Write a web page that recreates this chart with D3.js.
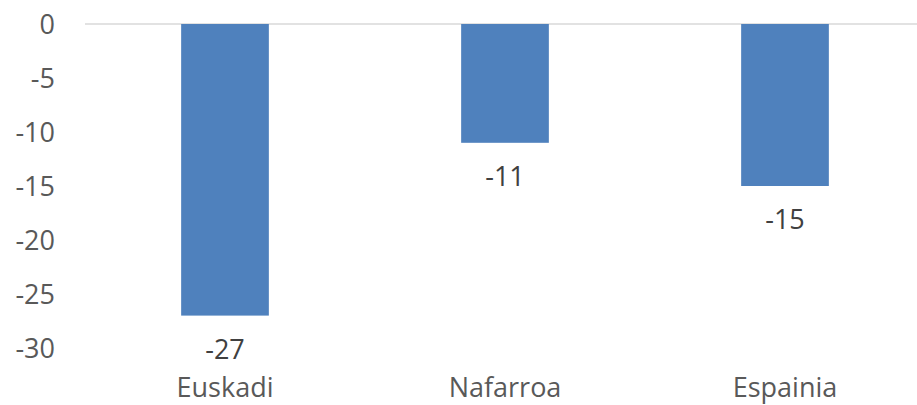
<!DOCTYPE html>
<html><head><meta charset="utf-8">
<script src="https://cdn.jsdelivr.net/npm/d3@7"></script>
<style>html,body{margin:0;padding:0;background:#fff;}svg{display:block;}</style>
</head><body>
<svg id="c" width="917" height="405"></svg>
<script>
const categories = ["Euskadi", "Nafarroa", "Espainia"];
const values = [-27, -11, -15];
const yTicks = [0, -5, -10, -15, -20, -25, -30];

const svg = d3.select("#c");
const font = "'Open Sans', 'Noto Sans', sans-serif";
const fs = 27;
const x = d3.scaleBand().domain(categories).range([85, 925]).paddingInner(0.6868).paddingOuter(0.3434);
const y = d3.scaleLinear().domain([-30, 0]).range([348, 24]);

// gridline at 0
svg.append("line").attr("x1", 85).attr("x2", 925).attr("y1", y(0)).attr("y2", y(0))
  .attr("stroke", "#d9d9d9").attr("stroke-width", 1.5);

// y axis
const yAxis = d3.axisLeft(y).tickValues(yTicks).tickSize(0).tickPadding(0).tickFormat(d => String(d));
const gy = svg.append("g").attr("transform", "translate(55,0)").call(yAxis);
gy.select(".domain").remove();
gy.selectAll("text").attr("font-family", font).attr("font-size", fs).attr("fill", "#595959").attr("dy", "0.36em");

// bars
svg.selectAll("rect.bar").data(values).enter().append("rect").attr("class", "bar")
  .attr("x", (d, i) => x(categories[i])).attr("width", x.bandwidth())
  .attr("y", d => y(0)).attr("height", d => y(d) - y(0))
  .attr("fill", "#4f81bd");

// data labels
svg.selectAll("text.lbl").data(values).enter().append("text").attr("class", "lbl")
  .attr("x", (d, i) => x(categories[i]) + x.bandwidth() / 2)
  .attr("y", d => y(d) + 43)
  .attr("text-anchor", "middle").attr("font-family", font).attr("font-size", fs).attr("fill", "#404040")
  .text(d => String(d));

// x axis
const xAxis = d3.axisBottom(x).tickSize(0).tickPadding(0);
const gx = svg.append("g").attr("transform", "translate(0,377)").call(xAxis);
gx.select(".domain").remove();
gx.selectAll("text").attr("font-family", font).attr("font-size", fs).attr("fill", "#595959").attr("dy", "0.74em");
</script>
</body></html>
